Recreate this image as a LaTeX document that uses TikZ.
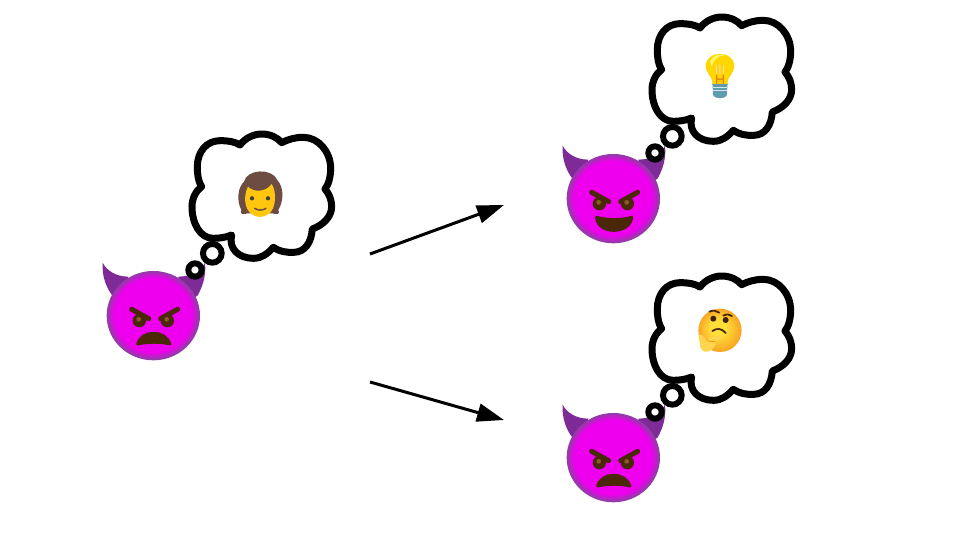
\documentclass[tikz,border=0pt]{standalone}
\usetikzlibrary{arrows.meta}
\definecolor{hornc}{HTML}{7E2B98}
\definecolor{facec}{HTML}{EE00EE}
\definecolor{edgec}{HTML}{8F3FA5}
\definecolor{featc}{HTML}{4A2806}
\definecolor{irisc}{HTML}{8A5A28}
\definecolor{hairc}{HTML}{6D4C41}
\definecolor{skinc}{HTML}{FFC60F}
\definecolor{bulbc}{HTML}{FFD600}
\definecolor{basec}{HTML}{5E9DB0}
\definecolor{thinkin}{HTML}{FFE03A}
\definecolor{thinkout}{HTML}{F9A825}
\definecolor{handc}{HTML}{FFD54F}
\tikzset{
 groupunit/.style={shift={#1},x=0.3333pt,y=-0.3333pt},
 bubble/.style={draw=black,fill=white,line width=6pt},
 cloudline/.style={draw=black,fill=white,line width=7pt,line join=round},
 feat/.style={fill=featc,draw=featc,line join=round},
 brow/.style={draw=featc,line width=5pt,line cap=round},
 arrowline/.style={draw=black,line width=3pt,-{Triangle[length=27pt,width=18pt]}}
}
\newcommand{\devilface}{%
 \fill[hornc] (38,428) .. controls (50,452) and (78,470) .. (115,470) -- (100,545) -- (68,528) .. controls (50,505) and (35,470) .. (38,428) -- cycle;
 \fill[hornc] (345,428) .. controls (333,452) and (302,470) .. (265,470) -- (280,545) -- (322,528) .. controls (335,505) and (350,470) .. (345,428) -- cycle;
 \foreach \i in {0,...,12}{
  \pgfmathsetmacro{\ringscale}{1-0.16*\i/12}
  \pgfmathsetmacro{\ringmix}{100*\i/12}
  \fill[facec!\ringmix!edgec] (190,587) ellipse [x radius=140*\ringscale,y radius=134*\ringscale];
 }
 \draw[brow] (125,568) -- (176,596);
 \draw[brow] (263,568) -- (212,596);
 \fill[featc] (148,602) circle (20);
 \fill[featc] (232,602) circle (20);
 \fill[irisc] (146,598) circle (7);
 \fill[irisc] (230,598) circle (7);
}
\newcommand{\angrymouth}{%
 \fill[feat,line width=3pt] (143,672) .. controls (150,650) and (170,640) .. (190,640) .. controls (215,640) and (232,652) .. (240,672) .. controls (215,665) and (170,665) .. (143,672) -- cycle;
}
\newcommand{\thoughtcloud}{%
 \draw[cloudline] (450,75) .. controls (465,55) and (490,42) .. (515,42)
   .. controls (540,42) and (562,52) .. (575,68)
   .. controls (595,58) and (615,52) .. (640,52)
   .. controls (685,52) and (722,95) .. (722,145)
   .. controls (722,172) and (715,195) .. (705,207)
   .. controls (718,222) and (725,240) .. (725,260)
   .. controls (725,290) and (700,315) .. (667,327)
   .. controls (664,368) and (645,396) .. (612,397)
   .. controls (590,398) and (568,395) .. (550,382)
   .. controls (532,402) and (515,415) .. (490,415)
   .. controls (445,415) and (415,385) .. (425,345)
   .. controls (408,352) and (390,355) .. (370,355)
   .. controls (330,355) and (306,310) .. (306,260)
   .. controls (306,235) and (318,212) .. (335,200)
   .. controls (325,185) and (322,165) .. (322,140)
   .. controls (322,95) and (350,62) .. (390,62)
   .. controls (415,62) and (435,65) .. (450,75) -- cycle;
 \draw[bubble] (367,400) circle (28);
 \draw[bubble] (315,450) circle (20);
}
\begin{document}
\begin{tikzpicture}[x=1pt,y=-1pt]
\useasboundingbox (0,0) rectangle (960,540);
\fill[white] (0,0) rectangle (960,540);

% left group
\begin{scope}[groupunit={(90,120)}]
 \devilface \angrymouth \thoughtcloud
 % person
 \fill[hairc] (472,280) .. controls (460,286) and (448,282) .. (454,270) .. controls (438,240) and (445,200) .. (462,185) .. controls (470,148) and (545,142) .. (562,180) .. controls (584,205) and (580,245) .. (565,270) .. controls (572,282) and (560,286) .. (548,280) -- cycle;
 \fill[skinc] (510,212) .. controls (495,214) and (482,208) .. (474,200) .. controls (466,215) and (464,235) .. (466,247) .. controls (470,277) and (490,291) .. (510,291) .. controls (530,291) and (550,277) .. (554,247) .. controls (557,225) and (554,205) .. (545,192) .. controls (535,205) and (525,210) .. (510,212) -- cycle;
 \fill[black!75] (486,235) circle (6.5);
 \fill[black!75] (534,235) circle (6.5);
 \draw[hairc,line width=1.5pt,line cap=round] (494,265) .. controls (505,272) and (517,272) .. (528,265);
\end{scope}

% top-right group
\begin{scope}[groupunit={(550,3)}]
 \devilface
 \fill[feat,line width=3pt] (140,643) .. controls (170,652) and (215,652) .. (245,643) .. controls (240,695) and (142,695) .. (140,643) -- cycle;
 \thoughtcloud
 % bulb
 \fill[basec] (487,240) -- (533,240) -- (530,278) .. controls (525,288) and (495,288) .. (490,278) -- cycle;
 \draw[white!75!basec,line width=.8pt] (488,252) -- (532,252) (489,263) -- (531,263);
 \fill[bulbc] (488,243) .. controls (485,215) and (467,210) .. (467,190) .. controls (467,140) and (553,140) .. (553,190) .. controls (553,210) and (535,215) .. (532,243) -- cycle;
 \fill[yellow!60!white] (480,175) .. controls (490,155) and (510,150) .. (525,158) .. controls (505,158) and (495,165) .. (485,190) -- cycle;
 \draw[orange!70!brown,line width=1.3pt] (500,243) -- (500,215) (520,243) -- (520,215) (500,225) .. controls (510,232) and (510,232) .. (520,225);
 \draw[white!70!orange,line width=1pt] (498,185) -- (500,212) (510,185) -- (510,212) (522,185) -- (520,212);
\end{scope}

% bottom-right group
\begin{scope}[groupunit={(550,262)}]
 \devilface \angrymouth \thoughtcloud
 % thinking
 \foreach \i in {0,...,8}{
  \pgfmathsetmacro{\ringmix}{100*\i/8}
  \fill[thinkin!\ringmix!thinkout] (510-0.6*\i,205-0.8*\i) circle (65-5*\i);
 }
 \fill[featc!85!black] (490,170) circle (9);
 \fill[featc!85!black] (527,174) circle (9);
 \draw[featc,line width=1.8pt,line cap=round] (478,149) .. controls (490,143) and (500,147) .. (508,152);
 \draw[featc,line width=1.8pt,line cap=round] (520,161) .. controls (530,156) and (538,156) .. (546,162);
 \draw[featc,line width=1.8pt,line cap=round] (487,207) .. controls (500,198) and (515,198) .. (527,213);
 \fill[handc] (447,218) .. controls (455,215) and (462,225) .. (468,232) -- (510,220) .. controls (518,222) and (516,232) .. (506,234) -- (496,238) .. controls (500,248) and (490,262) .. (478,268) .. controls (460,275) and (448,260) .. (450,245) .. controls (448,235) and (444,225) .. (447,218) -- cycle;
 \draw[orange!80!yellow,line width=.8pt] (468,232) .. controls (475,240) and (482,240) .. (496,238);
\end{scope}

\coordinate (upstart) at (370,254);
\coordinate (upend) at (504,205);
\coordinate (downstart) at (370,382);
\coordinate (downend) at (504,420);
\draw[arrowline] (upstart) -- (upend);
\draw[arrowline] (downstart) -- (downend);
\end{tikzpicture}
\end{document}
